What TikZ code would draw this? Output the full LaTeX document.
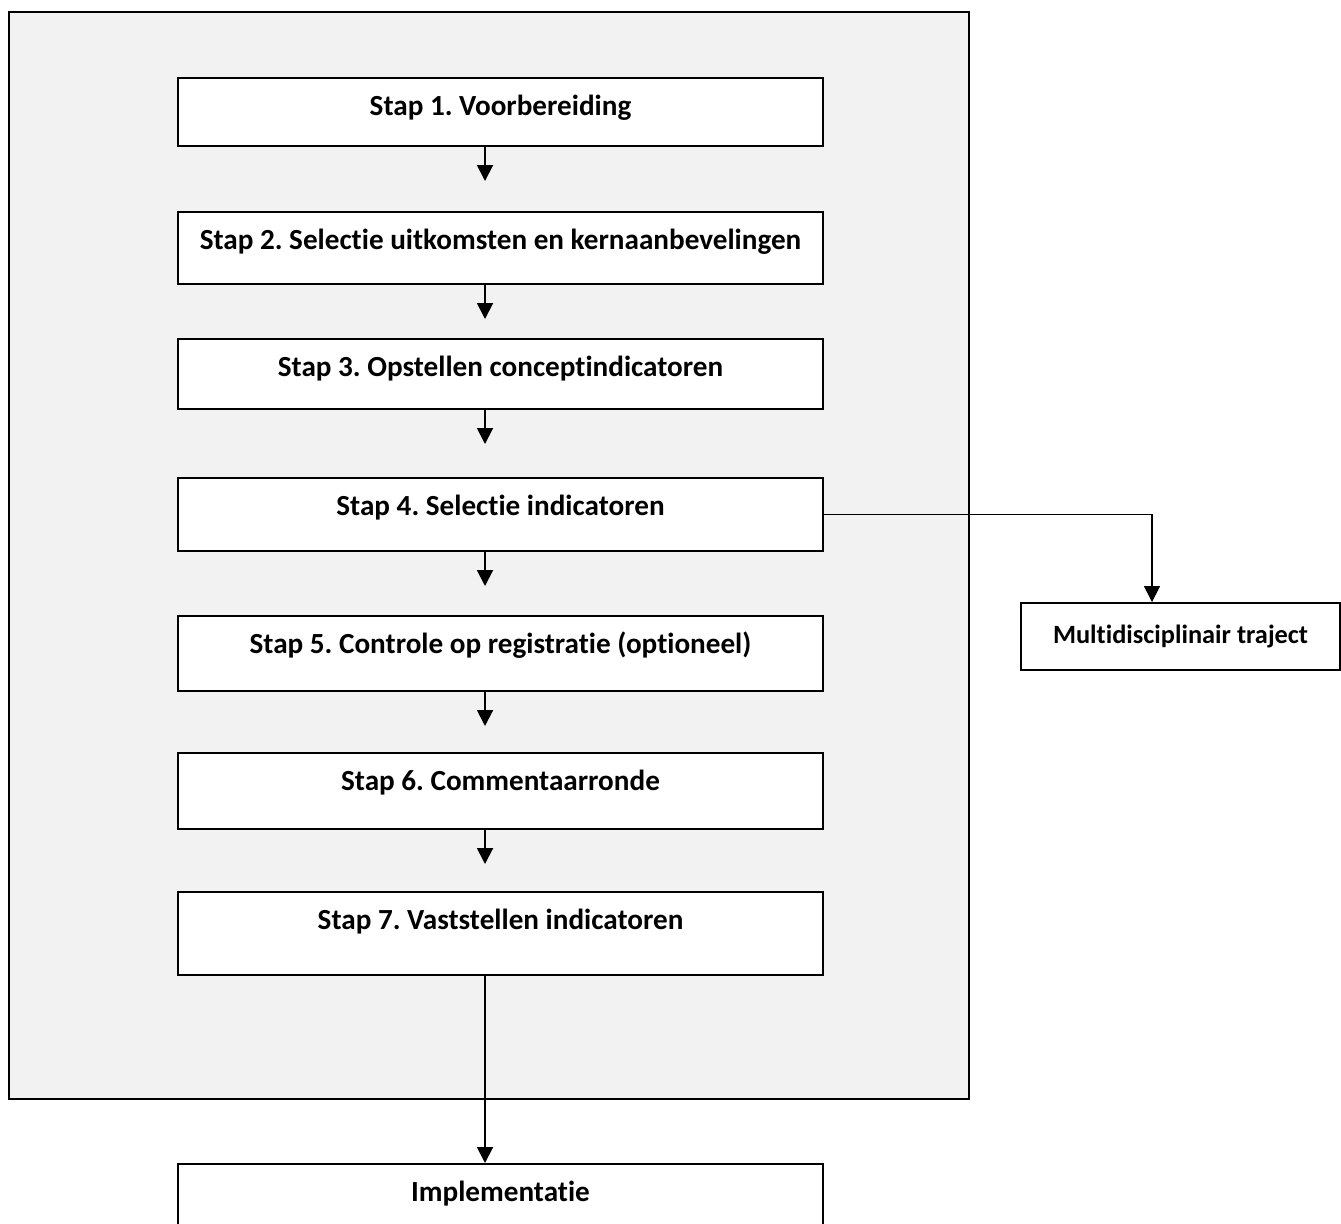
\documentclass[tikz,border=0pt]{standalone}
\usepackage{fontspec}
\setmainfont{Carlito}[Ligatures=NoCommon]
\usepackage{xcolor}
\usetikzlibrary{arrows.meta}
\definecolor{framegray}{HTML}{F2F2F2}
\frenchspacing

\begin{document}
\begin{tikzpicture}[x=0.02cm,y=-0.02cm,
  stepbox/.style={draw=black,line width=1.1pt,fill=white,anchor=north,
    minimum width=12.9cm,inner ysep=0pt,text height=0.76cm,
    font=\fontsize{16.6pt}{19pt}\selectfont\bfseries},
  sidebox/.style={draw=black,line width=1.1pt,fill=white,
    minimum width=6.38cm,minimum height=1.34cm,
    font=\fontsize{15pt}{18pt}\selectfont\bfseries},
  flowarrow/.style={line width=1.1pt,-{Triangle[width=0.32cm,length=0.32cm]}}]
\clip (0,0) rectangle (1341,1223);
\fill[white] (0,0) rectangle (1341,1223);

% grey frame round the steps
\draw[line width=1.1pt,fill=framegray] (9,12) rectangle (969,1099);

% steps
\node[stepbox,text depth=0.60cm] (s1) at (500.5,77) {Stap 1. Voorbereiding};
\node[stepbox,text depth=0.68cm] (s2) at (500.5,211) {Stap 2. Selectie uitkomsten en kernaanbevelingen};
\node[stepbox,text depth=0.64cm] (s3) at (500.5,338) {Stap 3. Opstellen conceptindicatoren};
\node[stepbox,text depth=0.70cm] (s4) at (500.5,477) {Stap 4. Selectie indicatoren};
\node[stepbox,text depth=0.74cm] (s5) at (500.5,615) {Stap 5. Controle op registratie (optioneel)};
\node[stepbox,text depth=0.76cm] (s6) at (500.5,752) {Stap 6. Commentaarronde};
\node[stepbox,text depth=0.90cm] (s7) at (500.5,891) {Stap 7. Vaststellen indicatoren};

% outside the frame
\node[stepbox,text depth=1.6cm] (impl) at (500.5,1163) {Implementatie};
\node[sidebox] (multi) at (1180.5,636.5) {Multidisciplinair traject};

% arrows
\foreach \a/\b/\g in {s1/s2/0.60,s2/s3/0.38,s3/s4/0.66,s4/s5/0.58,s5/s6/0.52,s6/s7/0.54}
  \draw[flowarrow,shorten >=\g cm] ([xshift=-0.31cm]\a.south) -- ([xshift=-0.31cm]\b.north);
\draw[flowarrow] ([xshift=-0.31cm]s7.south) -- ([xshift=-0.31cm]impl.north);
\draw[flowarrow,line width=0.9pt] (s4.east) -| ([xshift=-0.57cm]multi.north);
\end{tikzpicture}
\end{document}
